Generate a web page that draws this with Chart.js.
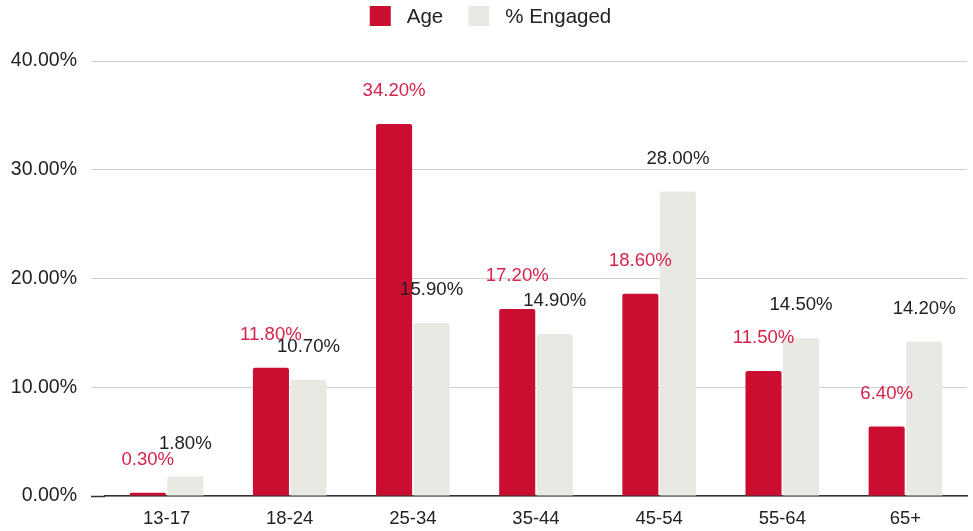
<!DOCTYPE html>
<html>
<head>
<meta charset="utf-8">
<script src="https://cdn.jsdelivr.net/npm/chart.js@4"></script>
<style>
html,body{margin:0;padding:0;background:#fff;}
#wrap{width:973px;height:531px;position:relative;}
</style>
</head>
<body>
<div id="wrap"><canvas id="c" width="973" height="531"></canvas></div>
<script>
const categories = ["13-17","18-24","25-34","35-44","45-54","55-64","65+"];
const ageValues = [0.30, 11.80, 34.20, 17.20, 18.60, 11.50, 6.40];
const engagedValues = [1.80, 10.70, 15.90, 14.90, 28.00, 14.50, 14.20];
const seriesNames = ["Age", "% Engaged"];
const yTicks = [0, 10, 20, 30, 40];

const RED = "#cb0d31";
const LIGHT = "#e9e9e4";
const LABEL_RED = "#d6234b";
const FONT = "'Liberation Sans', Arial, sans-serif";

const valueLabels = {
  id: "valueLabels",
  afterDatasetsDraw(chart) {
    const ctx = chart.ctx;
    ctx.save();
    ctx.font = "18.6px " + FONT;
    ctx.textAlign = "center";
    ctx.textBaseline = "middle";
    chart.data.datasets.forEach((ds, di) => {
      const meta = chart.getDatasetMeta(di);
      ctx.fillStyle = di === 0 ? LABEL_RED : "#222222";
      meta.data.forEach((bar, i) => {
        ctx.fillText(ds.data[i].toFixed(2) + "%", bar.x, bar.y - 33);
      });
    });
    ctx.restore();
  }
};

const topLegend = {
  id: "topLegend",
  afterDraw(chart) {
    const ctx = chart.ctx;
    ctx.save();
    ctx.font = "20.5px " + FONT;
    ctx.textBaseline = "middle";
    const box = 21, gapText = 16, gapItem = 25, cy = 16;
    const items = chart.data.datasets.map(ds => ({ text: ds.label, color: ds.backgroundColor, w: ctx.measureText(ds.label).width }));
    let total = 0;
    items.forEach((it, i) => { total += box + gapText + it.w + (i < items.length - 1 ? gapItem : 0); });
    let x = chart.width / 2 + 4 - total / 2;
    items.forEach(it => {
      ctx.fillStyle = it.color;
      ctx.fillRect(x, cy - 10, box, 20);
      x += box + gapText;
      ctx.fillStyle = "#222222";
      ctx.fillText(it.text, x, cy + 1);
      x += it.w + gapItem;
    });
    ctx.restore();
  }
};

new Chart(document.getElementById("c"), {
  type: "bar",
  data: {
    labels: categories,
    datasets: [
      { label: seriesNames[0], data: ageValues, backgroundColor: RED, borderRadius: 2, borderSkipped: "bottom" },
      { label: seriesNames[1], data: engagedValues, backgroundColor: LIGHT, borderRadius: 2, borderSkipped: "bottom" }
    ]
  },
  options: {
    responsive: false,
    animation: false,
    layout: { padding: { left: 0, right: 6, top: 61, bottom: 0 } },
    datasets: { bar: { categoryPercentage: 0.61, barPercentage: 0.96 } },
    plugins: {
      legend: { display: false },
      tooltip: { enabled: false }
    },
    scales: {
      x: {
        afterFit(scale) { scale.height = 35; },
        grid: { display: false, drawTicks: false },
        border: { display: true, color: "#333333", width: 1.5 },
        ticks: { font: { family: FONT, size: 18.5 }, color: "#222222", padding: 12 }
      },
      y: {
        min: 0, max: 40,
        afterBuildTicks(scale) { scale.ticks = yTicks.map(v => ({ value: v })); },
        afterFit(scale) { scale.width = 105; },
        grid: {
          color: "#d0d0d0", tickLength: 14,
          tickColor: c => (c.tick && c.tick.value === 0) ? "#333333" : "#d0d0d0",
          tickWidth: c => (c.tick && c.tick.value === 0) ? 1.5 : 1
        },
        border: { display: false },
        ticks: {
          font: { family: FONT, size: 19.5 }, color: "#222222", padding: 14,
          callback: v => v.toFixed(2) + "%"
        }
      }
    }
  },
  plugins: [valueLabels, topLegend]
});
</script>
</body>
</html>
